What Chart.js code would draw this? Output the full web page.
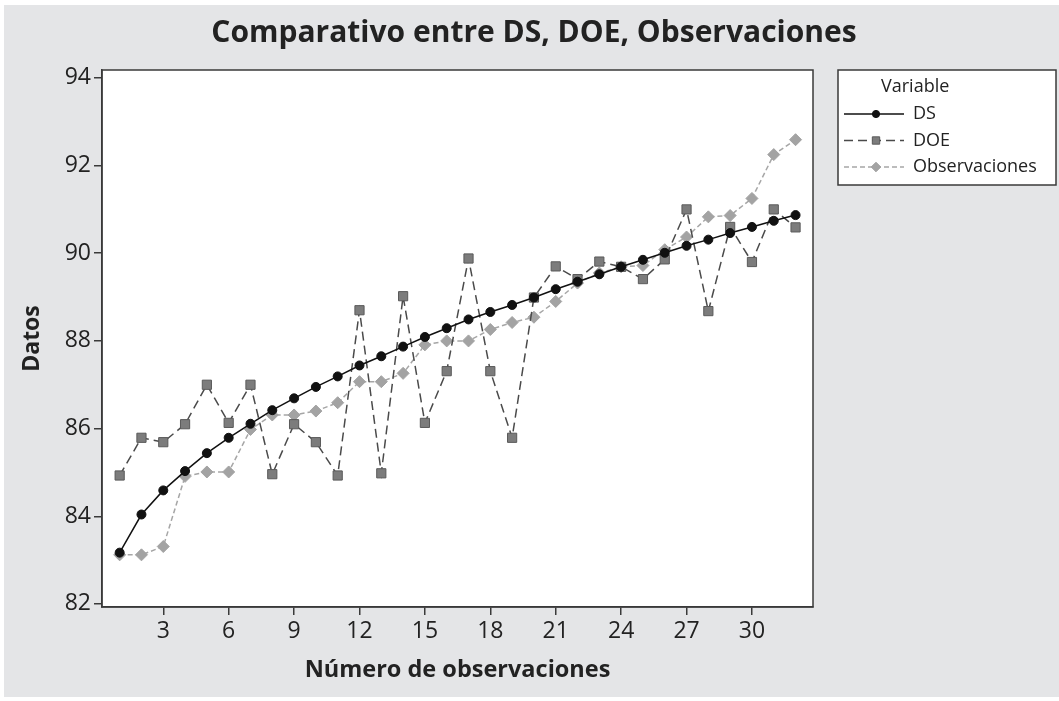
<!DOCTYPE html>
<html>
<head>
<meta charset="utf-8">
<script src="https://cdn.jsdelivr.net/npm/chart.js@4.4.1/dist/chart.umd.min.js"></script>
<style>
  body { margin: 0; background: #ffffff; }
  #marco {
    position: absolute; left: 4px; top: 5px;
    width: 1055px; height: 692px;
    background: #e4e5e7;
  }
</style>
</head>
<body>
<div id="marco"><canvas id="grafica"></canvas></div>
<script>
// Datos
const titulo = 'Comparativo entre DS, DOE, Observaciones';
const observaciones = [1, 2, 3, 4, 5, 6, 7, 8, 9, 10, 11, 12, 13, 14, 15, 16,
                       17, 18, 19, 20, 21, 22, 23, 24, 25, 26, 27, 28, 29, 30, 31, 32];
const serieDS = [83.17, 84.04, 84.59, 85.03, 85.44, 85.79, 86.11, 86.42, 86.69, 86.95, 87.19, 87.44,
                 87.65, 87.87, 88.09, 88.29, 88.49, 88.66, 88.82, 88.99, 89.18, 89.35, 89.52, 89.69,
                 89.85, 90.01, 90.17, 90.31, 90.46, 90.60, 90.74, 90.87];
const serieDOE = [84.93, 85.79, 85.69, 86.10, 87.00, 86.13, 87.00, 84.96, 86.10, 85.69, 84.93, 88.70,
                  84.98, 89.02, 86.13, 87.31, 89.88, 87.31, 85.79, 88.99, 89.70, 89.41, 89.81, 89.69,
                  89.41, 89.86, 91.00, 88.68, 90.60, 89.80, 91.00, 90.59];
const serieObs = [83.12, 83.12, 83.31, 84.91, 85.01, 85.01, 85.98, 86.31, 86.31, 86.40, 86.59, 87.07,
                  87.07, 87.26, 87.91, 88.00, 88.00, 88.26, 88.42, 88.54, 88.90, 89.32, 89.55, 89.69,
                  89.72, 90.08, 90.37, 90.83, 90.86, 91.25, 92.25, 92.59];
const ticksX = [3, 6, 9, 12, 15, 18, 21, 24, 27, 30];
const ticksY = [82, 84, 86, 88, 90, 92, 94];

const fuente = "'Open Sans', 'DejaVu Sans', sans-serif";
const colorEje = '#3a3a3a';

function puntos(valores) {
    return valores.map((v, i) => ({ x: observaciones[i], y: v }));
}

// Fondo blanco, marco del área de trazado y título centrado en la figura
const marcoPlugin = {
    id: 'marcoArea',
    beforeDraw(chart) {
        const { ctx, chartArea: a } = chart;
        ctx.save();
        ctx.fillStyle = '#ffffff';
        ctx.fillRect(a.left, a.top, a.right - a.left, a.bottom - a.top);
        ctx.restore();
    },
    afterDraw(chart) {
        const { ctx, chartArea: a } = chart;
        ctx.save();
        ctx.strokeStyle = colorEje;
        ctx.lineWidth = 1.5;
        ctx.strokeRect(a.left, a.top, a.right - a.left, a.bottom - a.top);
        ctx.fillStyle = '#222';
        ctx.font = 'bold 30px ' + fuente;
        ctx.textAlign = 'center';
        ctx.textBaseline = 'middle';
        ctx.fillText(titulo, 530, 28);
        ctx.restore();
    }
};

// Leyenda estilo Minitab con título "Variable"
const leyendaPlugin = {
    id: 'leyendaVariable',
    afterDraw(chart) {
        const ctx = chart.ctx;
        const x0 = 834, y0 = 65, w = 218, h = 115;
        ctx.save();
        ctx.fillStyle = '#ffffff';
        ctx.fillRect(x0, y0, w, h);
        ctx.strokeStyle = colorEje;
        ctx.lineWidth = 1.5;
        ctx.strokeRect(x0, y0, w, h);
        ctx.font = '18px ' + fuente;
        ctx.textBaseline = 'middle';
        ctx.fillStyle = '#222';
        ctx.fillText('Variable', 877, 82);
        chart.data.datasets.forEach((ds, i) => {
            const y = 109 + i * 26.5;
            ctx.save();
            ctx.strokeStyle = ds.borderColor;
            ctx.lineWidth = ds.borderWidth;
            ctx.setLineDash(ds.borderDash || []);
            ctx.beginPath();
            ctx.moveTo(840, y);
            ctx.lineTo(900, y);
            ctx.stroke();
            ctx.restore();
            ctx.fillStyle = ds.pointBackgroundColor;
            ctx.strokeStyle = ds.pointBorderColor;
            ctx.lineWidth = ds.pointBorderWidth;
            Chart.helpers.drawPoint(ctx, {
                pointStyle: ds.pointStyle,
                radius: ds.pointRadius * 0.8,
                borderWidth: ds.pointBorderWidth
            }, 872, y);
            ctx.fillStyle = '#222';
            ctx.fillText(ds.label, 909, y);
        });
        ctx.restore();
    }
};

const ctx = document.getElementById('grafica').getContext('2d');
new Chart(ctx, {
    type: 'line',
    data: {
        datasets: [
            {
                label: 'DS',
                data: puntos(serieDS),
                borderColor: '#111111',
                borderWidth: 1.5,
                pointStyle: 'circle',
                pointRadius: 4.5,
                pointBackgroundColor: '#111111',
                pointBorderColor: '#111111',
                pointBorderWidth: 1
            },
            {
                label: 'DOE',
                data: puntos(serieDOE),
                borderColor: '#4a4a4a',
                borderWidth: 1.5,
                borderDash: [9, 5],
                pointStyle: 'rect',
                pointRadius: 6.5,
                pointBackgroundColor: '#7c7c7c',
                pointBorderColor: '#5a5a5a',
                pointBorderWidth: 1
            },
            {
                label: 'Observaciones',
                data: puntos(serieObs),
                borderColor: '#a6a6a6',
                borderWidth: 1.5,
                borderDash: [5, 3],
                pointStyle: 'rectRot',
                pointRadius: 6,
                pointBackgroundColor: '#a3a3a3',
                pointBorderColor: '#a3a3a3',
                pointBorderWidth: 1
            }
        ]
    },
    options: {
        responsive: true,
        maintainAspectRatio: false,
        animation: false,
        layout: { padding: { left: 0, right: 246, top: 65, bottom: 0 } },
        plugins: {
            legend: { display: false },
            tooltip: { enabled: false },
            title: { display: false }
        },
        scales: {
            x: {
                type: 'linear',
                min: 0.19,
                max: 32.8,
                afterBuildTicks: (s) => { s.ticks = ticksX.map(v => ({ value: v })); },
                afterFit: (s) => { s.height = 90; },
                grid: {
                    drawOnChartArea: false,
                    drawTicks: true,
                    tickLength: 8,
                    color: colorEje,
                    lineWidth: 1.5
                },
                border: { display: true, color: colorEje, width: 1.5 },
                ticks: {
                    color: '#222',
                    padding: 3,
                    maxRotation: 0,
                    autoSkip: false,
                    font: { family: fuente, size: 23 }
                },
                title: {
                    display: true,
                    text: 'Número de observaciones',
                    color: '#222',
                    font: { family: fuente, size: 23.5, weight: 'bold' },
                    padding: { top: 0, bottom: 13 }
                }
            },
            y: {
                type: 'linear',
                min: 81.93,
                max: 94.18,
                afterBuildTicks: (s) => { s.ticks = ticksY.map(v => ({ value: v })); },
                afterFit: (s) => { s.width = 98; },
                grid: {
                    drawOnChartArea: false,
                    drawTicks: true,
                    tickLength: 8,
                    color: colorEje,
                    lineWidth: 1.5
                },
                border: { display: true, color: colorEje, width: 1.5 },
                ticks: {
                    color: '#222',
                    padding: 3,
                    font: { family: fuente, size: 23 }
                },
                title: {
                    display: true,
                    text: 'Datos',
                    color: '#222',
                    font: { family: fuente, size: 23, weight: 'bold' },
                    padding: { top: 15, bottom: 0 }
                }
            }
        }
    },
    plugins: [marcoPlugin, leyendaPlugin]
});
</script>
</body>
</html>
